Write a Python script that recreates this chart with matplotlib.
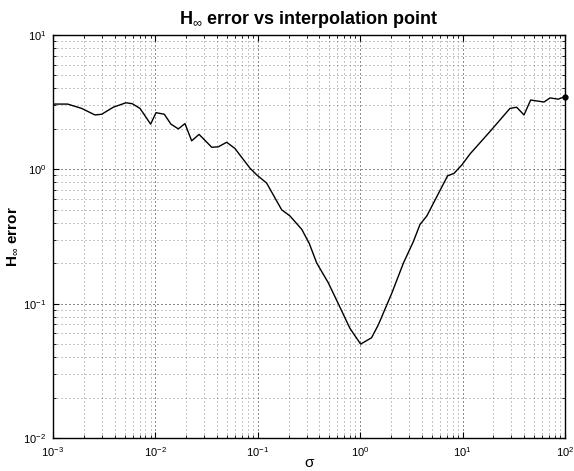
import numpy as np
import matplotlib
matplotlib.use('Agg')
import matplotlib.pyplot as plt

plt.rcParams['font.family'] = ['Liberation Sans', 'DejaVu Sans']
plt.rcParams['mathtext.fontset'] = 'custom'
plt.rcParams['mathtext.rm'] = 'Liberation Sans'
plt.rcParams['mathtext.it'] = 'Liberation Sans:italic'
plt.rcParams['mathtext.bf'] = 'Liberation Sans:bold'

# interpolation points (sigma) and H-infinity error
sigma = [0.001, 0.00139, 0.00191, 0.00257, 0.00299, 0.00388, 0.00516, 0.00594,
         0.00708, 0.00899, 0.01014, 0.01222, 0.01419, 0.01675, 0.01945, 0.0226,
         0.0267, 0.0355, 0.0411, 0.0497, 0.0598, 0.0839, 0.0975, 0.122, 0.171,
         0.206, 0.269, 0.318, 0.376, 0.488, 0.611, 0.794, 1.01, 1.29, 1.50, 2.03,
         2.64, 3.30, 3.84, 4.47, 7.14, 8.24, 9.86, 11.8, 18.5, 29.0, 33.7, 39.8,
         46.2, 62.4, 71.4, 86.1, 100.0]
err = [3.06, 3.06, 2.84, 2.54, 2.57, 2.90, 3.13, 3.08, 2.84, 2.17, 2.64, 2.57,
       2.17, 2.00, 2.19, 1.63, 1.82, 1.46, 1.47, 1.59, 1.43, 1.02, 0.91, 0.79,
       0.50, 0.45, 0.357, 0.281, 0.201, 0.143, 0.100, 0.0655, 0.050, 0.0557,
       0.0693, 0.119, 0.200, 0.289, 0.389, 0.449, 0.895, 0.933, 1.08, 1.30, 1.91,
       2.84, 2.90, 2.54, 3.28, 3.17, 3.40, 3.33, 3.48]

fig = plt.figure(figsize=(5.74, 4.71), dpi=100)
ax = fig.add_axes([0.0923, 0.0701, 0.892, 0.8556])

ax.loglog(sigma, err, color='black', lw=1.0)
ax.plot(sigma[-1], err[-1], 'k.', ms=7, clip_on=False)

ax.set_xlim(1e-3, 1e2)
ax.set_ylim(1e-2, 1e1)

# matlab style dotted grid
ax.grid(True, which='major', ls=(0, (1, 3)), color='0.1', lw=0.72)
ax.grid(True, which='minor', ls=(0, (1, 3)), color='0.55', lw=0.72)
ax.tick_params(which='both', direction='in', top=True, right=True, labelsize=8)
ax.tick_params(which='major', length=4, pad=5)
ax.tick_params(which='minor', length=2)
for s in ax.spines.values():
    s.set_linewidth(1.0)

ax.set_title(r'H$_\infty$ error vs interpolation point', fontsize=13, fontweight='bold', pad=8)
ax.set_ylabel(r'H$_\infty$ error', fontsize=11, fontweight='bold', labelpad=2)
ax.set_xlabel('\u03c3', fontsize=11, labelpad=-2)

fig.savefig('out.png', dpi=100)
